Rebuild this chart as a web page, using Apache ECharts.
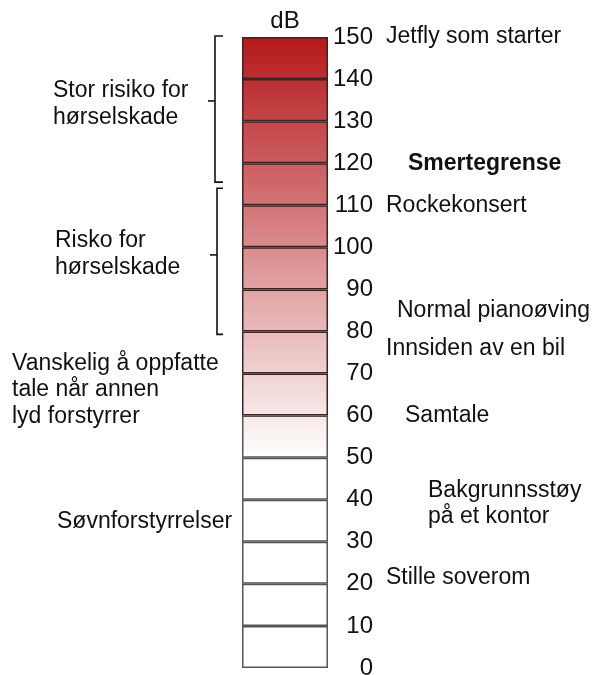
<!DOCTYPE html>
<html>
<head>
<meta charset="utf-8">
<script src="https://cdn.jsdelivr.net/npm/echarts@6/dist/echarts.min.js"></script>
<style>
  html, body { margin: 0; padding: 0; background: #fff; }
  #chart { width: 592px; height: 675px; }
</style>
</head>
<body>
<div id="chart"></div>
<script>
// dB-skala (akseverdier)
const levels = [0, 10, 20, 30, 40, 50, 60, 70, 80, 90, 100, 110, 120, 130, 140, 150];

// tekster til høyre og hvilket dB-nivå de står ved
const rightNotes = ['Jetfly som starter', 'Smertegrense', 'Rockekonsert', 'Normal pianoøving',
    'Innsiden av en bil', 'Samtale', 'Bakgrunnsstøy\npå et kontor', 'Stille soverom'];
const rightNoteDb = [150, 120, 110, 85, 76, 60, 39, 21.5];

// tekster til venstre
const leftNotes = ['Stor risiko for\nhørselskade', 'Risko for\nhørselskade',
    'Vanskelig å oppfatte\ntale når annen\nlyd forstyrrer', 'Søvnforstyrrelser'];
const leftNoteDb = [134, 98.4, 66.1, 34.7];

// klammer: [topp, bunn, midtmerke] i dB
const bracketTop = [150, 113.8];
const bracketBottom = [115.5, 79.3];
const bracketMid = [134.8, 98.2];

const FONT = '"Liberation Sans", Arial, sans-serif';

// farge for et dB-nivå: hvit opp til 50, så mot mørk rød ved 150
function levelColor(db) {
    const t = Math.max(0, Math.min(1, (db - 50) / 100));
    const r = Math.round(255 - (255 - 181) * t);
    const g = Math.round(255 - (255 - 24) * t);
    const b = Math.round(255 - (255 - 26) * t);
    return `rgb(${r},${g},${b})`;
}

const chart = echarts.init(document.getElementById('chart'), null, { renderer: 'canvas' });

// én stablet serie per celle
const series = [];
for (let i = 0; i < levels.length - 1; i++) {
    const lo = levels[i];
    const hi = levels[i + 1];
    series.push({
        type: 'bar',
        stack: 'db',
        barWidth: '100%',
        silent: true,
        data: [hi - lo],
        itemStyle: {
            color: {
                type: 'linear', x: 0, y: 0, x2: 0, y2: 1,
                colorStops: [
                    { offset: 0, color: levelColor(hi) },
                    { offset: 1, color: levelColor(lo) }
                ]
            },
            borderColor: lo >= 60 ? '#3a2424' : '#555',
            borderWidth: 1.5
        }
    });
}

chart.setOption({
    animation: false,
    grid: { left: 242, top: 37, width: 86, height: 631, outerBoundsMode: 'none' },
    xAxis: {
        type: 'category',
        data: ['dB'],
        show: false,
        boundaryGap: true
    },
    yAxis: {
        type: 'value',
        position: 'right',
        min: levels[0],
        max: levels[levels.length - 1],
        interval: 10,
        axisLine: { show: false },
        axisTick: { show: false },
        splitLine: { show: false },
        axisLabel: {
            align: 'right',
            margin: 45,
            fontSize: 24,
            color: '#111',
            fontFamily: FONT
        }
    },
    series: series
});

// tekster og klammer plassert via aksen
const yAt = db => chart.convertToPixel({ yAxisIndex: 0 }, db);
const rightNoteX = [386, 408, 386, 397, 386, 405, 428, 386];
const leftNoteX = [53, 55, 12, 57];

const graphics = [{
    type: 'text',
    x: 285, y: 21,
    style: {
        text: 'dB', fontSize: 24, fontFamily: FONT, fill: '#111',
        textAlign: 'center', textVerticalAlign: 'middle'
    }
}];

rightNotes.forEach((txt, i) => {
    graphics.push({
        type: 'text',
        x: rightNoteX[i], y: yAt(rightNoteDb[i]),
        style: {
            text: txt, fontSize: 23, fontFamily: FONT, fill: '#111',
            fontWeight: txt === 'Smertegrense' ? 'bold' : 'normal',
            lineHeight: 26, textAlign: 'left', textVerticalAlign: 'middle'
        }
    });
});

leftNotes.forEach((txt, i) => {
    graphics.push({
        type: 'text',
        x: leftNoteX[i], y: yAt(leftNoteDb[i]),
        style: {
            text: txt, fontSize: 23, fontFamily: FONT, fill: '#111',
            lineHeight: 26.5, textAlign: 'left', textVerticalAlign: 'middle'
        }
    });
});

bracketTop.forEach((top, i) => {
    const x = i === 0 ? 215 : 217;
    const y0 = yAt(top) - 1;
    const y1 = yAt(bracketBottom[i]);
    const ym = yAt(bracketMid[i]);
    graphics.push({
        type: 'polyline',
        shape: { points: [[223, y0], [x, y0], [x, y1], [223, y1]] },
        style: { stroke: '#111', lineWidth: 1.6, fill: null }
    });
    graphics.push({
        type: 'line',
        shape: { x1: x, y1: ym, x2: x - 7, y2: ym },
        style: { stroke: '#111', lineWidth: 1.6 }
    });
});

chart.setOption({ graphic: graphics });
</script>
</body>
</html>
